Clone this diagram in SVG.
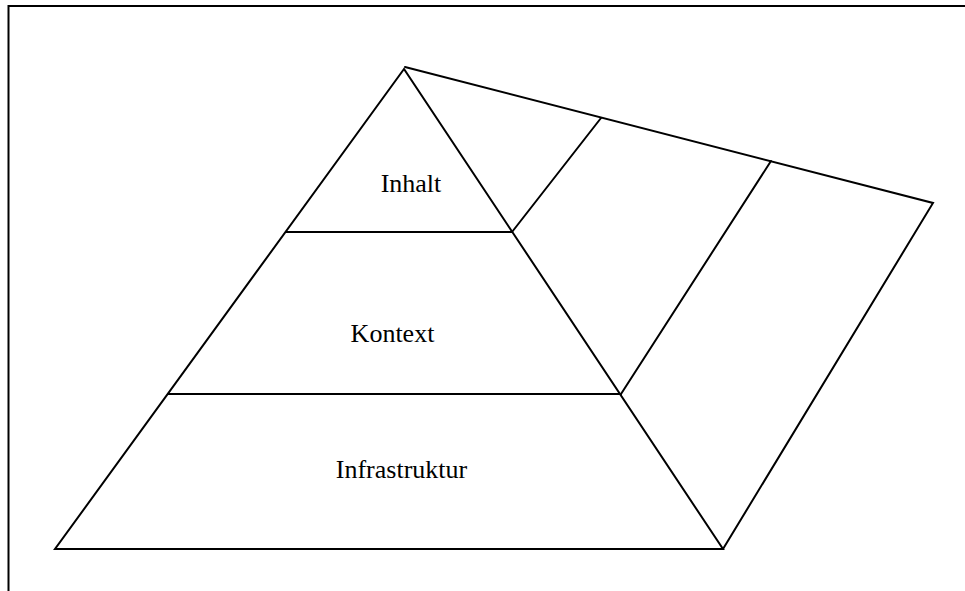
<svg xmlns="http://www.w3.org/2000/svg" width="965" height="591" viewBox="0 0 965 591">
  <style>
    .ln { stroke: #000; stroke-width: 2; fill: none; stroke-linecap: round; stroke-linejoin: miter; }
    .lbl { font-family: "Liberation Serif", "Times New Roman", serif; font-size: 26px; fill: #000; text-anchor: middle; }
  </style>
  <rect width="965" height="591" fill="#fff"/>
  <!-- frame (open at right and bottom) -->
  <path class="ln" d="M8.5,600 V6 H975" stroke-linecap="butt"/>
  <g id="connectors">
    <!-- pyramid outline -->
    <path class="ln" d="M404,69 L55,549 L723,549 Z"/>
    <!-- extruded side face -->
    <path class="ln" d="M405,67 L933,203 L723,549"/>
    <line class="ln" x1="512" y1="232" x2="601" y2="118"/>
    <line class="ln" x1="621" y1="394" x2="771" y2="161"/>
  </g>
  <g id="inhalt">
    <line class="ln" x1="286" y1="232" x2="512" y2="232"/>
    <text class="lbl" x="411" y="191.5">Inhalt</text>
  </g>
  <g id="kontext">
    <line class="ln" x1="168" y1="394" x2="621" y2="394"/>
    <text class="lbl" x="392.5" y="341.5">Kontext</text>
  </g>
  <g id="infrastruktur">
    <text class="lbl" x="401.5" y="478">Infrastruktur</text>
  </g>
</svg>
